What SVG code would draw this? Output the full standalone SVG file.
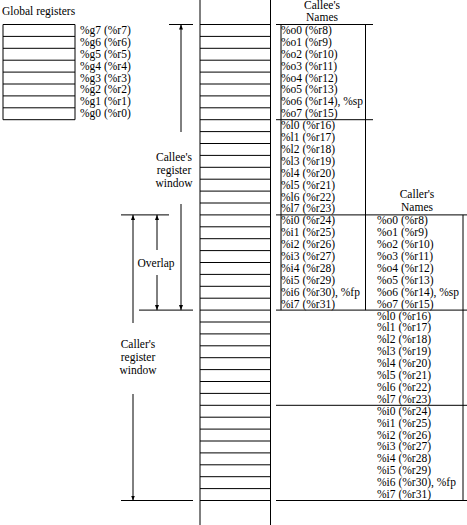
<svg xmlns="http://www.w3.org/2000/svg" width="467" height="525" viewBox="0 0 467 525">
<style>
text{font-family:"Liberation Serif","DejaVu Serif",serif;font-size:11.5px;fill:#000}
.c{text-anchor:middle}
.ln{stroke:#000;stroke-width:1;fill:none}
.ar{stroke:#000;stroke-width:1;fill:none;marker-end:url(#ah)}
</style>
<defs>
<marker id="ah" viewBox="0 0 5 4" refX="5" refY="2" markerWidth="5" markerHeight="4" markerUnits="userSpaceOnUse" orient="auto">
<path d="M0,0 L5,2 L0,4 z" fill="#000"/>
</marker>
</defs>
<rect width="467" height="525" fill="#fff"/>

<g id="global-registers">
<text x="2" y="15">Global registers</text>
<path class="ln" d="M3,24.5 H75 V119.7 H3 Z M3,36.4 H75 M3,48.3 H75 M3,60.2 H75 M3,72.1 H75 M3,84 H75 M3,95.9 H75 M3,107.8 H75"/>
<text x="80" y="33.9">%g7 (%r7)</text>
<text x="80" y="45.8">%g6 (%r6)</text>
<text x="80" y="57.7">%g5 (%r5)</text>
<text x="80" y="69.6">%g4 (%r4)</text>
<text x="80" y="81.5">%g3 (%r3)</text>
<text x="80" y="93.4">%g2 (%r2)</text>
<text x="80" y="105.3">%g1 (%r1)</text>
<text x="80" y="117.2">%g0 (%r0)</text>
</g>

<g id="stack">
<path class="ln" d="M200,0 V525 M270.5,0 V525
M200,24.5 H270.5 M200,36.4 H270.5 M200,48.3 H270.5 M200,60.2 H270.5 M200,72.1 H270.5 M200,84 H270.5 M200,95.9 H270.5 M200,107.8 H270.5
M200,119.7 H270.5 M200,131.6 H270.5 M200,143.5 H270.5 M200,155.4 H270.5 M200,167.3 H270.5 M200,179.2 H270.5 M200,191.1 H270.5 M200,203 H270.5
M200,214.9 H270.5 M200,226.8 H270.5 M200,238.7 H270.5 M200,250.6 H270.5 M200,262.5 H270.5 M200,274.4 H270.5 M200,286.3 H270.5 M200,298.2 H270.5
M200,310.1 H270.5 M200,322 H270.5 M200,333.9 H270.5 M200,345.8 H270.5 M200,357.7 H270.5 M200,369.6 H270.5 M200,381.5 H270.5 M200,393.4 H270.5
M200,405.3 H270.5 M200,417.2 H270.5 M200,429.1 H270.5 M200,441 H270.5 M200,452.9 H270.5 M200,464.8 H270.5 M200,476.7 H270.5 M200,488.6 H270.5
M200,500.5 H270.5"/>
</g>

<g id="callee-names">
<text class="c" x="322" y="8.5">Callee's</text>
<text class="c" x="322" y="20.5">Names</text>
<path class="ln" d="M276,24.5 H373 M276,119.7 H373 M281,24.5 V310.1 M365.5,24.5 V310.1"/>
<text x="281" y="33.9">%o0 (%r8)</text>
<text x="281" y="45.8">%o1 (%r9)</text>
<text x="281" y="57.7">%o2 (%r10)</text>
<text x="281" y="69.6">%o3 (%r11)</text>
<text x="281" y="81.5">%o4 (%r12)</text>
<text x="281" y="93.4">%o5 (%r13)</text>
<text x="281" y="105.3">%o6 (%r14), %sp</text>
<text x="281" y="117.2">%o7 (%r15)</text>
<text x="281" y="129.1">%l0 (%r16)</text>
<text x="281" y="141">%l1 (%r17)</text>
<text x="281" y="152.9">%l2 (%r18)</text>
<text x="281" y="164.8">%l3 (%r19)</text>
<text x="281" y="176.7">%l4 (%r20)</text>
<text x="281" y="188.6">%l5 (%r21)</text>
<text x="281" y="200.5">%l6 (%r22)</text>
<text x="281" y="212.4">%l7 (%r23)</text>
<text x="281" y="224.3">%i0 (%r24)</text>
<text x="281" y="236.2">%i1 (%r25)</text>
<text x="281" y="248.1">%i2 (%r26)</text>
<text x="281" y="260">%i3 (%r27)</text>
<text x="281" y="271.9">%i4 (%r28)</text>
<text x="281" y="283.8">%i5 (%r29)</text>
<text x="281" y="295.7">%i6 (%r30), %fp</text>
<text x="281" y="307.6">%i7 (%r31)</text>
</g>

<g id="caller-names">
<text class="c" x="417" y="198">Caller's</text>
<text class="c" x="417" y="210.5">Names</text>
<path class="ln" d="M276,214.9 H467 M276,310.1 H467 M276,405.3 H467 M276,500.5 H467 M463,214.9 V500.5"/>
<text x="377" y="224.3">%o0 (%r8)</text>
<text x="377" y="236.2">%o1 (%r9)</text>
<text x="377" y="248.1">%o2 (%r10)</text>
<text x="377" y="260">%o3 (%r11)</text>
<text x="377" y="271.9">%o4 (%r12)</text>
<text x="377" y="283.8">%o5 (%r13)</text>
<text x="377" y="295.7">%o6 (%r14), %sp</text>
<text x="377" y="307.6">%o7 (%r15)</text>
<text x="377" y="319.5">%l0 (%r16)</text>
<text x="377" y="331.4">%l1 (%r17)</text>
<text x="377" y="343.3">%l2 (%r18)</text>
<text x="377" y="355.2">%l3 (%r19)</text>
<text x="377" y="367.1">%l4 (%r20)</text>
<text x="377" y="379">%l5 (%r21)</text>
<text x="377" y="390.9">%l6 (%r22)</text>
<text x="377" y="402.8">%l7 (%r23)</text>
<text x="377" y="414.7">%i0 (%r24)</text>
<text x="377" y="426.6">%i1 (%r25)</text>
<text x="377" y="438.5">%i2 (%r26)</text>
<text x="377" y="450.4">%i3 (%r27)</text>
<text x="377" y="462.3">%i4 (%r28)</text>
<text x="377" y="474.2">%i5 (%r29)</text>
<text x="377" y="486.1">%i6 (%r30), %fp</text>
<text x="377" y="498">%i7 (%r31)</text>
</g>

<g id="callee-window-label">
<text class="c" x="174" y="161">Callee's</text>
<text class="c" x="174" y="174">register</text>
<text class="c" x="174" y="187">window</text>
</g>
<g id="overlap-label">
<text class="c" x="156" y="267">Overlap</text>
</g>
<g id="caller-window-label">
<text class="c" x="138" y="348">Caller's</text>
<text class="c" x="138" y="361">register</text>
<text class="c" x="138" y="374">window</text>
</g>

<g id="connectors">
<path class="ln" d="M169,24.5 H193 M139,310.1 H193 M121,214.9 H169 M121,500.5 H193"/>
<path class="ar" d="M181,132 V24.5"/>
<path class="ar" d="M181,204 V310.1"/>
<path class="ar" d="M157,250 V214.9"/>
<path class="ar" d="M157,275 V310.1"/>
<path class="ar" d="M133,323 V214.9"/>
<path class="ar" d="M133,394 V500.5"/>
</g>
</svg>
